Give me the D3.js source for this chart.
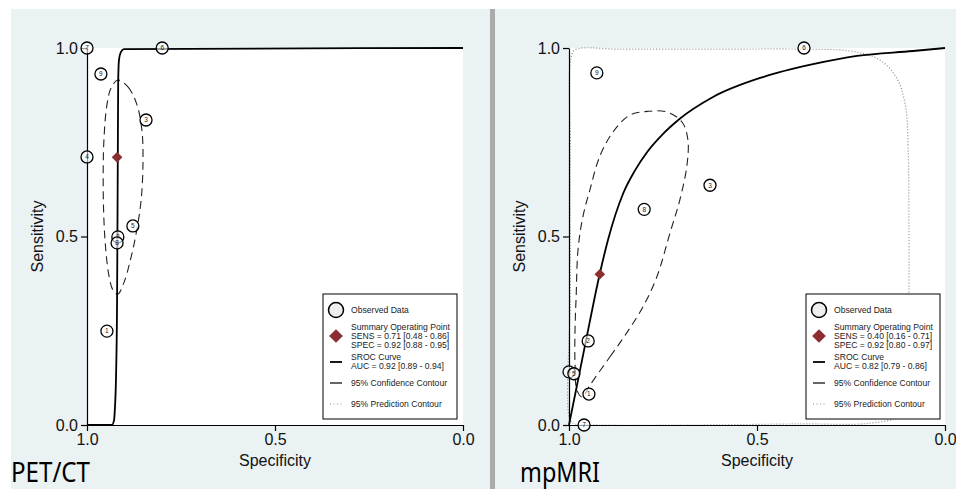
<!DOCTYPE html>
<html>
<head>
<meta charset="utf-8">
<script src="https://cdn.jsdelivr.net/npm/d3@7"></script>
<style>
  body { margin: 0; background: #fff; }
  svg text { font-family: "Liberation Sans", Arial, sans-serif; }
</style>
</head>
<body>
<div id="viz"></div>
<script>
/***************** Data (spec, sens) *********************/
var axisTicks = [0, 0.5, 1];

// PET/CT
var petStudies = [
  ["7", 1.0, 1.0], ["6", 0.80, 1.0], ["9", 0.963, 0.931], ["3", 0.843, 0.809],
  ["4", 1.0, 0.711], ["5", 0.878, 0.528], ["2", 0.918, 0.499], ["8", 0.920, 0.483],
  ["1", 0.947, 0.249]
];
var petSummary = [0.92, 0.71];
var petSroc = [
  [1.0, 0], [0.934, 0], [0.928, 0.013], [0.926, 0.040], [0.923, 0.119], [0.920, 0.332],
  [0.918, 0.729], [0.917, 0.915], [0.915, 0.968], [0.910, 0.989], [0.902, 0.997], [0.0, 1.0]
];
var petConf = [
  [0.918, 0.915], [0.891, 0.897], [0.867, 0.849], [0.854, 0.782], [0.851, 0.703],
  [0.856, 0.597], [0.870, 0.504], [0.886, 0.432], [0.902, 0.377], [0.918, 0.347],
  [0.931, 0.358], [0.942, 0.398], [0.950, 0.464], [0.955, 0.544], [0.957, 0.650],
  [0.955, 0.756], [0.947, 0.849], [0.936, 0.894]
];
var petLegend = ["SENS = 0.71 [0.48 - 0.86]", "SPEC = 0.92 [0.88 - 0.95]", "AUC = 0.92 [0.89 - 0.94]"];

// mpMRI
var mriStudies = [
  ["6", 0.375, 1.0], ["9", 0.926, 0.934], ["3", 0.625, 0.636], ["8", 0.80, 0.572],
  ["2", 0.949, 0.223], ["4", 1.0, 0.141], ["5", 0.987, 0.136], ["1", 0.947, 0.082],
  ["7", 0.960, 0.0]
];
var mriSummary = [0.918, 0.40];
var mriSroc = [
  [1.0, 0], [0.979, 0.104], [0.955, 0.223], [0.918, 0.402], [0.896, 0.492], [0.856, 0.614],
  [0.824, 0.676], [0.793, 0.723], [0.753, 0.769], [0.707, 0.811], [0.617, 0.870],
  [0.484, 0.923], [0.351, 0.957], [0.234, 0.979], [0.085, 0.992], [0.0, 1.0]
];
var mriConf = [
  [0.944, 0.106], [0.891, 0.181], [0.846, 0.245], [0.803, 0.314], [0.766, 0.394],
  [0.731, 0.511], [0.705, 0.598], [0.686, 0.691], [0.684, 0.758], [0.699, 0.803],
  [0.739, 0.830], [0.790, 0.832], [0.838, 0.822], [0.883, 0.777], [0.918, 0.713],
  [0.944, 0.625], [0.963, 0.553], [0.976, 0.465], [0.981, 0.340], [0.984, 0.253],
  [0.984, 0.165], [0.979, 0.093], [0.965, 0.074]
];
var mriPred = [
  [0.997, 0.013], [0.997, 0.332], [0.997, 0.731], [0.995, 0.971], [0.984, 0.995],
  [0.864, 0.997], [0.598, 0.997], [0.386, 0.997], [0.253, 0.992], [0.178, 0.971],
  [0.130, 0.923], [0.106, 0.851], [0.098, 0.731], [0.096, 0.545], [0.096, 0.332],
  [0.098, 0.120], [0.120, 0.027], [0.199, 0.005], [0.386, 0.003], [0.652, 0.0],
  [0.918, 0.0], [0.984, 0.003]
];
var mriLegend = ["SENS = 0.40 [0.16 - 0.71]", "SPEC = 0.92 [0.80 - 0.97]", "AUC = 0.82 [0.79 - 0.86]"];

/***************** Layout *********************/
var W = 956, H = 489,
    bg_color = "#eaf2f3",
    diamond_color = "#8c2d30",
    text_color = "#111";

var svg = d3.select("#viz").append("svg")
    .attr("width", W).attr("height", H);

// panel backgrounds and divider
svg.append("rect").attr("x", 11).attr("y", 9).attr("width", 479).attr("height", H - 9).attr("fill", bg_color);
svg.append("rect").attr("x", 495).attr("y", 9).attr("width", W - 495).attr("height", H - 9).attr("fill", bg_color);
svg.append("rect").attr("x", 490).attr("y", 9).attr("width", 5).attr("height", H - 9).attr("fill", "#ababab");

var styleAxis = function(a) {
  a.selectAll("text").style("font-size", "16px").style("fill", text_color)
    .style("font-family", "Liberation Sans, Arial, sans-serif");
  a.selectAll("path,line").attr("stroke", "#000").attr("stroke-width", 1.2);
};

var drawPanel = function(opts) {
  var x = d3.scaleLinear().domain([1, 0]).range([opts.left, opts.left + 376]);
  var y = d3.scaleLinear().domain([0, 1]).range([425, 48]);
  var g = svg.append("g");

  g.append("rect")
    .attr("x", x(1)).attr("y", y(1))
    .attr("width", x(0) - x(1)).attr("height", y(0) - y(1))
    .attr("fill", "#fff");

  var line = function(curve) {
    return d3.line()
      .x(function(d) { return x(d[0]); })
      .y(function(d) { return y(d[1]); })
      .curve(curve);
  };

  /* Prediction contour */
  if (opts.pred) {
    g.append("path").datum(opts.pred)
      .attr("d", line(d3.curveCatmullRomClosed.alpha(0.5)))
      .attr("fill", "none").attr("stroke", "#8a8a8a")
      .attr("stroke-width", 1.2).attr("stroke-dasharray", "1,2");
  }

  /* Confidence contour */
  g.append("path").datum(opts.conf)
    .attr("d", line(d3.curveCatmullRomClosed.alpha(0.5)))
    .attr("fill", "none").attr("stroke", "#222")
    .attr("stroke-width", 1.1).attr("stroke-dasharray", "8,5");

  /* SROC curve */
  g.append("path").datum(opts.sroc)
    .attr("d", line(d3.curveMonotoneX))
    .attr("fill", "none").attr("stroke", "#000")
    .attr("stroke-width", 1.8);

  /* Axes */
  var yAxis = d3.axisLeft(y).tickValues(axisTicks).tickFormat(d3.format(".1f"))
    .tickSize(6).tickSizeOuter(0);
  var xAxis = d3.axisBottom(x).tickValues(axisTicks).tickFormat(d3.format(".1f"))
    .tickSize(6).tickSizeOuter(0);

  g.append("g").attr("transform", "translate(" + x(1) + ",0)").call(yAxis).call(styleAxis);
  g.append("g").attr("transform", "translate(0," + y(0) + ")").call(xAxis).call(styleAxis);

  g.append("text")
    .attr("transform", "translate(" + (x(1) - 50) + "," + ((y(0) + y(1)) / 2) + ") rotate(-90)")
    .attr("text-anchor", "middle").attr("dy", "0.35em")
    .style("font-size", "16px").style("fill", text_color)
    .text("Sensitivity");

  g.append("text")
    .attr("x", (x(0) + x(1)) / 2).attr("y", 466)
    .attr("text-anchor", "middle")
    .style("font-size", "16px").style("fill", text_color)
    .text("Specificity");

  /* Observed data */
  var pts = g.selectAll(".study").data(opts.studies).enter()
    .append("g").attr("class", "study")
    .attr("transform", function(d) { return "translate(" + x(d[1]) + "," + y(d[2]) + ")"; });
  pts.append("circle").attr("r", 6)
    .attr("fill", "#fff").attr("fill-opacity", 0.6)
    .attr("stroke", "#000").attr("stroke-width", 1.3);
  pts.append("text").attr("text-anchor", "middle").attr("dy", "0.35em")
    .style("font-size", "6.5px").style("fill", "#222")
    .text(function(d) { return d[0]; });

  /* Summary point */
  g.append("path")
    .attr("d", d3.symbol().type(d3.symbolDiamond2).size(72)())
    .attr("transform", "translate(" + x(opts.summary[0]) + "," + y(opts.summary[1]) + ")")
    .attr("fill", diamond_color);

  /* Legend */
  var leg = g.append("g").attr("transform", "translate(" + opts.legendX + ",294)");
  leg.append("rect").attr("width", 134).attr("height", 125)
    .attr("fill", "#fff").attr("stroke", "#000").attr("stroke-width", 1);
  leg.append("circle").attr("cx", 13).attr("cy", 16).attr("r", 7.5)
    .attr("fill", "#eee").attr("stroke", "#000").attr("stroke-width", 1.5);
  leg.append("path")
    .attr("d", d3.symbol().type(d3.symbolDiamond2).size(120)())
    .attr("transform", "translate(13,42)")
    .attr("fill", diamond_color);
  leg.append("line").attr("x1", 7).attr("x2", 19).attr("y1", 68).attr("y2", 68)
    .attr("stroke", "#000").attr("stroke-width", 1.8);
  leg.append("line").attr("x1", 7).attr("x2", 19).attr("y1", 89).attr("y2", 89)
    .attr("stroke", "#000").attr("stroke-width", 1.2);
  leg.append("line").attr("x1", 7).attr("x2", 19).attr("y1", 110).attr("y2", 110)
    .attr("stroke", "#8a8a8a").attr("stroke-width", 1).attr("stroke-dasharray", "1,2.5");

  var legRows = [
    ["Observed Data", 16],
    ["Summary Operating Point", 33],
    [opts.legend[0], 42],
    [opts.legend[1], 51],
    ["SROC Curve", 63],
    [opts.legend[2], 72],
    ["95% Confidence Contour", 89],
    ["95% Prediction Contour", 110]
  ];
  leg.selectAll(".lt").data(legRows).enter().append("text")
    .attr("class", "lt")
    .attr("x", 28).attr("y", function(d) { return d[1]; })
    .attr("dy", "0.35em")
    .style("font-size", "8.6px").style("fill", "#222")
    .text(function(d) { return d[0]; });

  /* Panel title */
  svg.append("text")
    .attr("x", opts.titleX).attr("y", 482)
    .attr("textLength", opts.titleW).attr("lengthAdjust", "spacingAndGlyphs")
    .style("font-family", "Noto Sans, sans-serif").style("font-size", "28px")
    .style("fill", "#000")
    .text(opts.title);
};

drawPanel({ left: 87, studies: petStudies, summary: petSummary, sroc: petSroc, conf: petConf,
            pred: null, legend: petLegend, legendX: 323, title: "PET/CT", titleX: 11, titleW: 79 });
drawPanel({ left: 569, studies: mriStudies, summary: mriSummary, sroc: mriSroc, conf: mriConf,
            pred: mriPred, legend: mriLegend, legendX: 806, title: "mpMRI", titleX: 520, titleW: 80 });
</script>
</body>
</html>
